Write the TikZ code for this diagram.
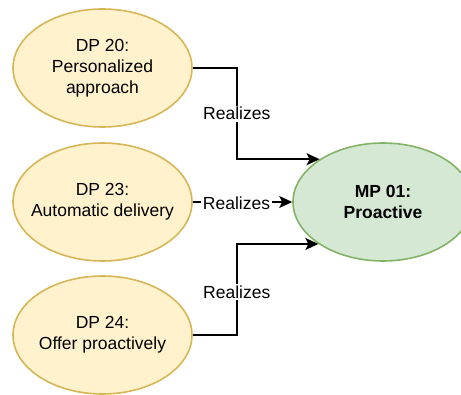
\documentclass[tikz,border=0pt]{standalone}
\usepackage{fontspec}
\setmainfont{Liberation Sans}
\usetikzlibrary{shapes.geometric,arrows.meta,calc}
\definecolor{yfill}{HTML}{FFF2CC}
\definecolor{ydraw}{HTML}{D6B656}
\definecolor{gfill}{HTML}{D5E8D4}
\definecolor{gdraw}{HTML}{82B366}
\tikzset{
  dp/.style={ellipse, draw=ydraw, fill=yfill, line width=1.6pt, minimum width=179pt, minimum height=118pt, inner sep=0pt},
  mpnode/.style={ellipse, draw=gdraw, fill=gfill, line width=1.6pt, minimum width=180pt, minimum height=118pt, inner sep=0pt},
  txt/.style={align=center, inner sep=0pt, font=\fontsize{17.5}{21}\selectfont},
  conn/.style={line width=1.6pt, -{Stealth[length=13pt,width=12pt,inset=3pt]}},
  lbl/.style={fill=white, inner sep=1.5pt, font=\fontsize{17.5}{21}\selectfont}
}
\begin{document}
\begin{tikzpicture}[x=1pt,y=1pt]
\useasboundingbox (0,0) rectangle (461,394);
\node[dp] (dp20) at (102.5,326) {};
\node[txt] (t20) at (dp20) {DP 20:\\Personalized\\approach};
\node[dp] (dp23) at (102.5,192) {};
\node[txt] (t23) at (dp23) {DP 23:\\Automatic delivery};
\node[dp] (dp24) at (102.5,59) {};
\node[txt] (t24) at (dp24) {DP 24:\\Offer proactively};
\node[mpnode] (mp) at (383,192) {};
\node[txt,font=\fontsize{17.5}{21}\selectfont\bfseries] (tmp) at (mp) {MP 01:\\Proactive};
\draw[conn] (dp20.east) -- ($(dp20.east)+(44,0)$) |- node[lbl,pos=0.25] {Realizes} (mp.146.3);
\draw[conn] (dp23.east) -- node[lbl,pos=0.44,yshift=-1pt] {Realizes} (mp.west);
\draw[conn] (dp24.east) -- ($(dp24.east)+(44,0)$) |- node[lbl,pos=0.235] {Realizes} (mp.213.7);
\end{tikzpicture}
\end{document}
